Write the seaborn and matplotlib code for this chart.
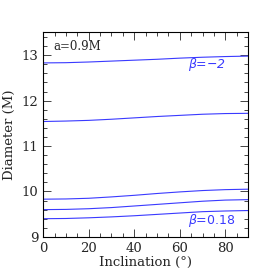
import numpy as np
import seaborn as sns
import matplotlib
matplotlib.use('Agg')
import matplotlib.pyplot as plt
from matplotlib.ticker import MultipleLocator

# Inclination grid (degrees) and diameters
incl = [0, 10, 20, 30, 40, 50, 60, 70, 80, 90]
d_beta_m2 = [12.83, 12.835, 12.85, 12.87, 12.89, 12.91, 12.935, 12.955, 12.97, 12.98]
d_beta_2 = [11.54, 11.55, 11.565, 11.59, 11.62, 11.65, 11.675, 11.70, 11.715, 11.72]
d_beta_3 = [9.83, 9.835, 9.85, 9.88, 9.915, 9.955, 9.99, 10.02, 10.04, 10.05]
d_beta_4 = [9.60, 9.605, 9.62, 9.645, 9.68, 9.715, 9.75, 9.785, 9.81, 9.82]
d_beta_018 = [9.40, 9.405, 9.42, 9.44, 9.465, 9.495, 9.525, 9.555, 9.57, 9.58]
curves = [d_beta_m2, d_beta_2, d_beta_3, d_beta_4, d_beta_018]

sns.set_theme(style="ticks")
plt.rcParams['font.family'] = ['DejaVu Serif']

LINE = '#3a3aff'

fig = plt.figure(figsize=(2.8, 2.8), dpi=100, facecolor='white')
ax = fig.add_axes([0.154, 0.154, 0.732, 0.73])

for d in curves:
    sns.lineplot(x=incl, y=d, ax=ax, color=LINE, linewidth=0.8)

ax.set_xlim(0, 90)
ax.set_ylim(9, 13.5)
ax.xaxis.set_major_locator(MultipleLocator(20))
ax.xaxis.set_minor_locator(MultipleLocator(5))
ax.yaxis.set_major_locator(MultipleLocator(1))
ax.yaxis.set_minor_locator(MultipleLocator(0.2))
ax.tick_params(which='both', direction='in', top=True, right=True, labelsize=9.5, width=0.7, color='#444444')
ax.tick_params(which='major', length=6)
ax.tick_params(which='minor', length=3)
for s in ax.spines.values():
    s.set_linewidth(0.8)
    s.set_color('black')

ax.set_xlabel('Inclination (°)', fontsize=9.5, labelpad=1)
ax.set_ylabel('Diameter (M)', fontsize=9.5, labelpad=4)

ax.text(0.05, 0.93, 'a=0.9M', transform=ax.transAxes, fontsize=8.5, ha='left', va='center')
ax.text(72, 12.8, r'$\beta$=−2', fontsize=9, color=LINE, ha='center', va='center',
        family='DejaVu Sans', style='italic')
ax.text(74, 9.36, r'$\beta$=0.18', fontsize=9, color=LINE, ha='center', va='center',
        family='DejaVu Sans')

fig.savefig('out.png', dpi=100)
